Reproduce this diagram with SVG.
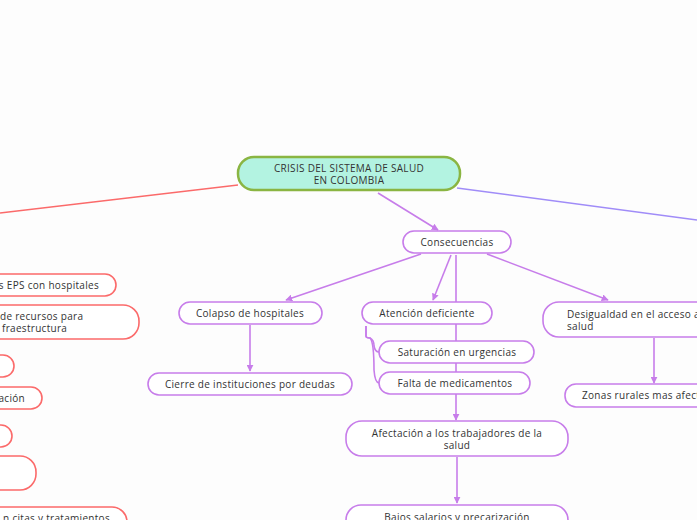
<svg xmlns="http://www.w3.org/2000/svg" width="697" height="520" viewBox="0 0 697 520">
<style>
text{font-family:"Open Sans","Liberation Sans",sans-serif;font-size:10px;fill:#333;letter-spacing:0.3px}
.c{text-anchor:middle}
.p{fill:#fff;stroke:#c77dea;stroke-width:1.6}
.r{fill:#fff;stroke:#fb6a6a;stroke-width:1.6}
.pl{fill:none;stroke:#c77dea;stroke-width:1.6}
</style>
<defs>
<marker id="a" viewBox="0 0 10 10" refX="9" refY="5" markerWidth="7" markerHeight="7" orient="auto" markerUnits="userSpaceOnUse"><path d="M0,0 L10,5 L0,10 z" fill="#c77dea"/></marker>
</defs>
<rect width="697" height="520" fill="#fdfdfd"/>
<g id="connectors">
<line x1="238" y1="185" x2="0" y2="213" stroke="#fb6a6a" stroke-width="1.6"/>
<line x1="457" y1="188" x2="697" y2="220" stroke="#a08cf8" stroke-width="1.6"/>
<line class="pl" x1="378" y1="193" x2="438" y2="230" marker-end="url(#a)"/>
<line class="pl" x1="421" y1="254" x2="286" y2="300" marker-end="url(#a)"/>
<line class="pl" x1="451" y1="255" x2="433" y2="300" marker-end="url(#a)"/>
<line class="pl" x1="456" y1="255" x2="456" y2="420" marker-end="url(#a)"/>
<line class="pl" x1="487" y1="254" x2="608" y2="300" marker-end="url(#a)"/>
<line class="pl" x1="250" y1="325" x2="250" y2="371" marker-end="url(#a)"/>
<line class="pl" x1="654" y1="338" x2="654" y2="383" marker-end="url(#a)"/>
<line class="pl" x1="457" y1="457" x2="457" y2="503" marker-end="url(#a)"/>
<path class="pl" d="M366,326 V336 Q366,338 370,338 Q374,340 374,346 Q375,352 379,352"/>
<path class="pl" d="M366,326 V336 Q366,338 370,338 Q374,342 374,370 Q375,383 379,383"/>
</g>
<g id="central">
<rect x="238" y="157" width="222" height="33" rx="16" fill="#b3f3e1" stroke="#8ab542" stroke-width="2.5"/>
<text class="c" x="349" y="172">CRISIS DEL SISTEMA DE SALUD</text>
<text class="c" x="349" y="184">EN COLOMBIA</text>
</g>
<g id="consecuencias">
<rect class="p" x="403" y="231" width="108" height="22" rx="11"/>
<text class="c" x="457" y="246">Consecuencias</text>
</g>
<g id="colapso">
<rect class="p" x="179" y="302" width="143" height="22" rx="11"/>
<text class="c" x="250" y="317">Colapso de hospitales</text>
</g>
<g id="cierre">
<rect class="p" x="148" y="373" width="204" height="22" rx="11"/>
<text class="c" x="250" y="388">Cierre de instituciones por deudas</text>
</g>
<g id="atencion">
<rect class="p" x="362" y="302" width="130" height="22" rx="11"/>
<text class="c" x="427" y="317">Atención deficiente</text>
</g>
<g id="saturacion">
<rect class="p" x="379" y="341" width="155" height="22" rx="11"/>
<text class="c" x="457" y="356">Saturación en urgencias</text>
</g>
<g id="falta">
<rect class="p" x="379" y="372" width="151" height="22" rx="11"/>
<text class="c" x="455" y="387">Falta de medicamentos</text>
</g>
<g id="desigualdad">
<rect class="p" x="543" y="302" width="190" height="35" rx="16"/>
<text x="567" y="318">Desigualdad en el acceso a la</text>
<text x="567" y="330">salud</text>
</g>
<g id="zonas">
<rect class="p" x="565" y="384" width="170" height="23" rx="11"/>
<text x="582" y="399">Zonas rurales mas afectadas</text>
</g>
<g id="afectacion">
<rect class="p" x="346" y="421" width="222" height="35" rx="16"/>
<text class="c" x="457" y="437">Afectación a los trabajadores de la</text>
<text class="c" x="457" y="449">salud</text>
</g>
<g id="bajos">
<rect class="p" x="346" y="505" width="222" height="30" rx="15"/>
<text class="c" x="457" y="521">Bajos salarios y precarización</text>
</g>
<g id="left1">
<rect class="r" x="-120" y="274" width="236" height="22" rx="11"/>
<text x="99" y="289" text-anchor="end">s EPS con hospitales</text>
</g>
<g id="left2">
<rect class="r" x="-120" y="305" width="259" height="34" rx="16"/>
<text x="0" y="320">de recursos para</text>
<text x="2" y="332">fraestructura</text>
</g>
<g id="left3">
<rect class="r" x="-120" y="355" width="134" height="22" rx="11"/>
</g>
<g id="left4">
<rect class="r" x="-120" y="387" width="162" height="22" rx="11"/>
<text x="25" y="402" text-anchor="end">ación</text>
</g>
<g id="left5">
<rect class="r" x="-120" y="425" width="132" height="22" rx="11"/>
</g>
<g id="left6">
<rect class="r" x="-120" y="456" width="156" height="34" rx="16"/>
</g>
<g id="left7">
<rect class="r" x="-120" y="507" width="247" height="30" rx="15"/>
<text x="110" y="522" text-anchor="end">n citas y tratamientos</text>
</g>
</svg>
